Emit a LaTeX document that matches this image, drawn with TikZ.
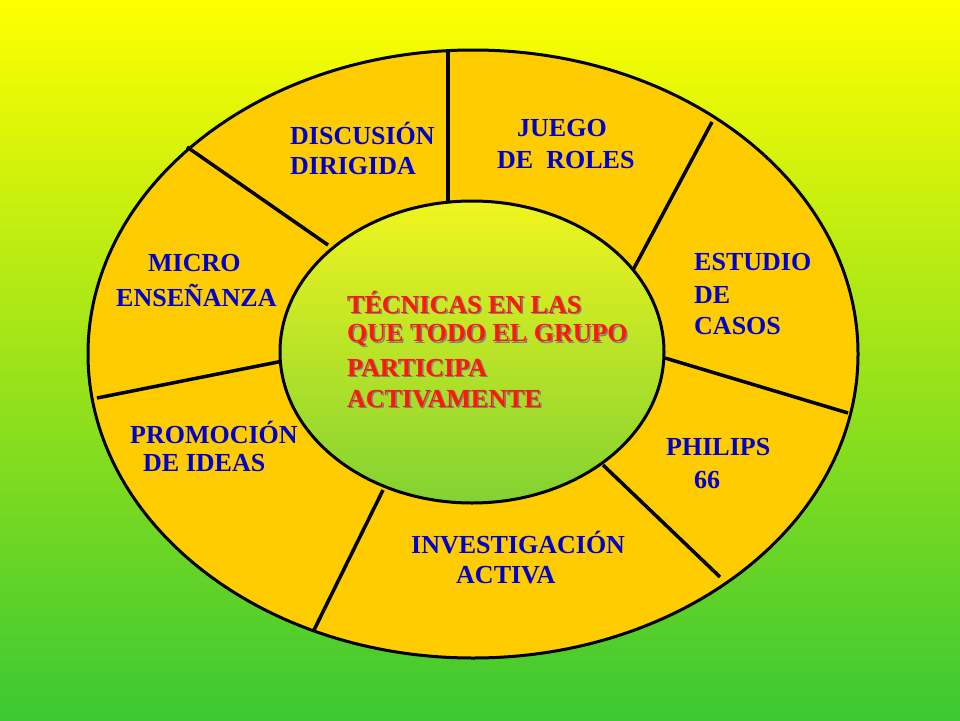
\documentclass[tikz,border=0pt]{standalone}
\usepackage{fontspec}
\setmainfont{Liberation Serif}
\definecolor{bgg}{RGB}{60,200,50}
\definecolor{ring}{RGB}{255,204,0}
\definecolor{inY}{RGB}{240,245,30}
\definecolor{inG}{RGB}{130,210,50}
\begin{document}
\begin{tikzpicture}[x=1pt,y=-1pt,
  lbl/.style={anchor=west,inner sep=0pt,text=blue!80!black,font=\bfseries\fontsize{26}{28}\selectfont},
  ctr/.style={anchor=west,inner sep=0pt,text=red!80!orange,font=\bfseries\fontsize{26}{28}\selectfont},
  div/.style={line width=3.5pt}]
\shade[top color=yellow,bottom color=bgg] (0,0) rectangle (960,720);
\useasboundingbox (0,0) rectangle (960,720);
\fill[ring] (473,354) ellipse [x radius=385,y radius=304];
\draw[line width=3pt] (473,354) ellipse [x radius=385,y radius=304];
\coordinate (a1) at (448,50); \coordinate (b1) at (448,205);
\coordinate (a2) at (712,122); \coordinate (b2) at (633,270);
\coordinate (a3) at (665,358); \coordinate (b3) at (848,413);
\coordinate (a4) at (603,465); \coordinate (b4) at (720,577);
\coordinate (a5) at (383,490); \coordinate (b5) at (314,630);
\coordinate (a6) at (288,360); \coordinate (b6) at (97,398);
\coordinate (a7) at (328,245); \coordinate (b7) at (187,147);
\foreach \i in {1,...,7} \draw[div] (a\i) -- (b\i);
\shade[top color=inY,bottom color=inG] (472,352) ellipse [x radius=192,y radius=151];
\draw[line width=3pt] (472,352) ellipse [x radius=192,y radius=151];
\node[lbl] (d1) at (290,133) {DISCUSIÓN};
\node[lbl] (d2) at (290,166) {DIRIGIDA};
\node[lbl] (j1) at (517,128) {JUEGO};
\node[lbl] (j2) at (497,160) {DE\ \ ROLES};
\node[lbl] (e1) at (694,262) {ESTUDIO};
\node[lbl] (e2) at (694,295) {DE};
\node[lbl] (e3) at (694,326) {CASOS};
\node[lbl] (m1) at (148,263) {MICRO};
\node[lbl] (m2) at (116,295) {ENSEÑANZA};
\node[lbl] (p1) at (130,432) {PROMOCIÓN};
\node[lbl] (p2) at (143,463) {DE IDEAS};
\node[lbl] (ph1) at (666,447) {PHILIPS};
\node[lbl] (ph2) at (694,480) {66};
\node[lbl] (i1) at (411,543) {INVESTIGACIÓN};
\node[lbl] (i2) at (456,575) {ACTIVA};
\foreach \n/\y/\t in {c1/302/TÉCNICAS EN LAS,c2/335/QUE TODO EL GRUPO,c3/368/PARTICIPA,c4/399/ACTIVAMENTE}{
  \node[ctr,text=black!50] at (348.5,\y+1.5) {\t};
  \node[ctr] (\n) at (347,\y) {\t};}
\end{tikzpicture}
\end{document}
